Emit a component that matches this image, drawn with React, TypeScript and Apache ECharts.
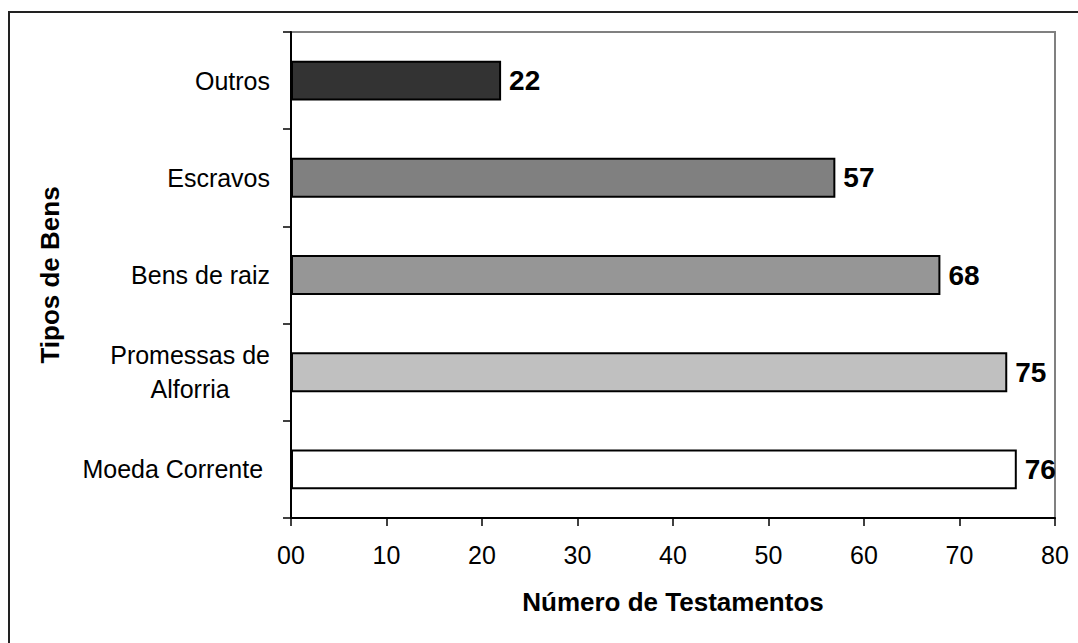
import React, { useEffect, useRef } from "react";
import * as echarts from "echarts";

const categories = ["Moeda Corrente ", "Promessas de\nAlforria", "Bens de raiz", "Escravos", "Outros"];
const values = [76, 75, 68, 57, 22];
const barColors = ["#ffffff", "#c0c0c0", "#969696", "#808080", "#333333"];
const xTicks = [0, 10, 20, 30, 40, 50, 60, 70, 80];
const xTickLabels = ["00", "10", "20", "30", "40", "50", "60", "70", "80"];
const xAxisTitle = "Número de Testamentos";
const yAxisTitle = "Tipos de Bens";

const FONT = "'Liberation Sans', Arial, sans-serif";

export default function App() {
  const ref = useRef<HTMLDivElement>(null);
  useEffect(() => {
    if (!ref.current) return;
    const chart = echarts.init(ref.current, null, { renderer: "svg" });
    chart.setOption({
      animation: false,
      backgroundColor: "#ffffff",
      textStyle: { fontFamily: FONT },
      graphic: [
        {
          type: "rect",
          shape: { x: 9, y: 12, width: 1200, height: 800 },
          style: { fill: "none", stroke: "#222", lineWidth: 2 },
          silent: true,
          z: 100,
        },
      ],
      grid: {
        left: 291,
        top: 32,
        right: 23,
        bottom: 125,
        show: true,
        borderColor: "#808080",
        borderWidth: 2,
        backgroundColor: "transparent",
      },
      xAxis: {
        type: "value",
        min: xTicks[0],
        max: xTicks[xTicks.length - 1],
        interval: 10,
        axisLine: { show: true, lineStyle: { color: "#000", width: 2 } },
        axisTick: { show: true, length: 8, lineStyle: { color: "#000", width: 1.5 } },
        splitLine: { show: false },
        axisLabel: {
          color: "#000",
          fontSize: 25,
          fontFamily: FONT,
          margin: 24,
          formatter: (v: number) => {
            const i = xTicks.indexOf(v);
            return i >= 0 ? xTickLabels[i] : String(v);
          },
        },
        name: xAxisTitle,
        nameLocation: "middle",
        nameGap: 71,
        nameTextStyle: { color: "#000", fontSize: 26, fontWeight: "bold", fontFamily: FONT },
      },
      yAxis: {
        type: "category",
        data: categories,
        axisLine: { show: true, lineStyle: { color: "#000", width: 2 } },
        axisTick: { show: true, length: 8, lineStyle: { color: "#000", width: 1.5 } },
        splitLine: { show: false },
        axisLabel: {
          color: "#000",
          fontSize: 25,
          fontFamily: FONT,
          margin: 21,
          formatter: (v: string) =>
            v
              .split("\n")
              .map((s) => `{c|${s}}`)
              .join("\n"),
          rich: {
            c: { align: "center", fontSize: 25, fontFamily: FONT, color: "#000", lineHeight: 34 },
          },
        },
        name: yAxisTitle,
        nameLocation: "middle",
        nameGap: 228,
        nameRotate: 90,
        nameTextStyle: { color: "#000", fontSize: 26, fontWeight: "bold", fontFamily: FONT },
      },
      series: [
        {
          type: "bar",
          data: values.map((v, i) => ({
            value: v,
            itemStyle: { color: barColors[i] },
          })),
          barCategoryGap: "59%",
          itemStyle: { borderColor: "#000", borderWidth: 2 },
          label: {
            show: true,
            position: "right",
            distance: 8,
            color: "#000",
            fontSize: 28,
            fontWeight: "bold",
            fontFamily: FONT,
          },
        },
      ],
    });
    return () => chart.dispose();
  }, []);
  return (
    <div
      ref={ref}
      style={{ position: "absolute", left: 0, top: 0, width: 1078, height: 643 }}
    />
  );
}
